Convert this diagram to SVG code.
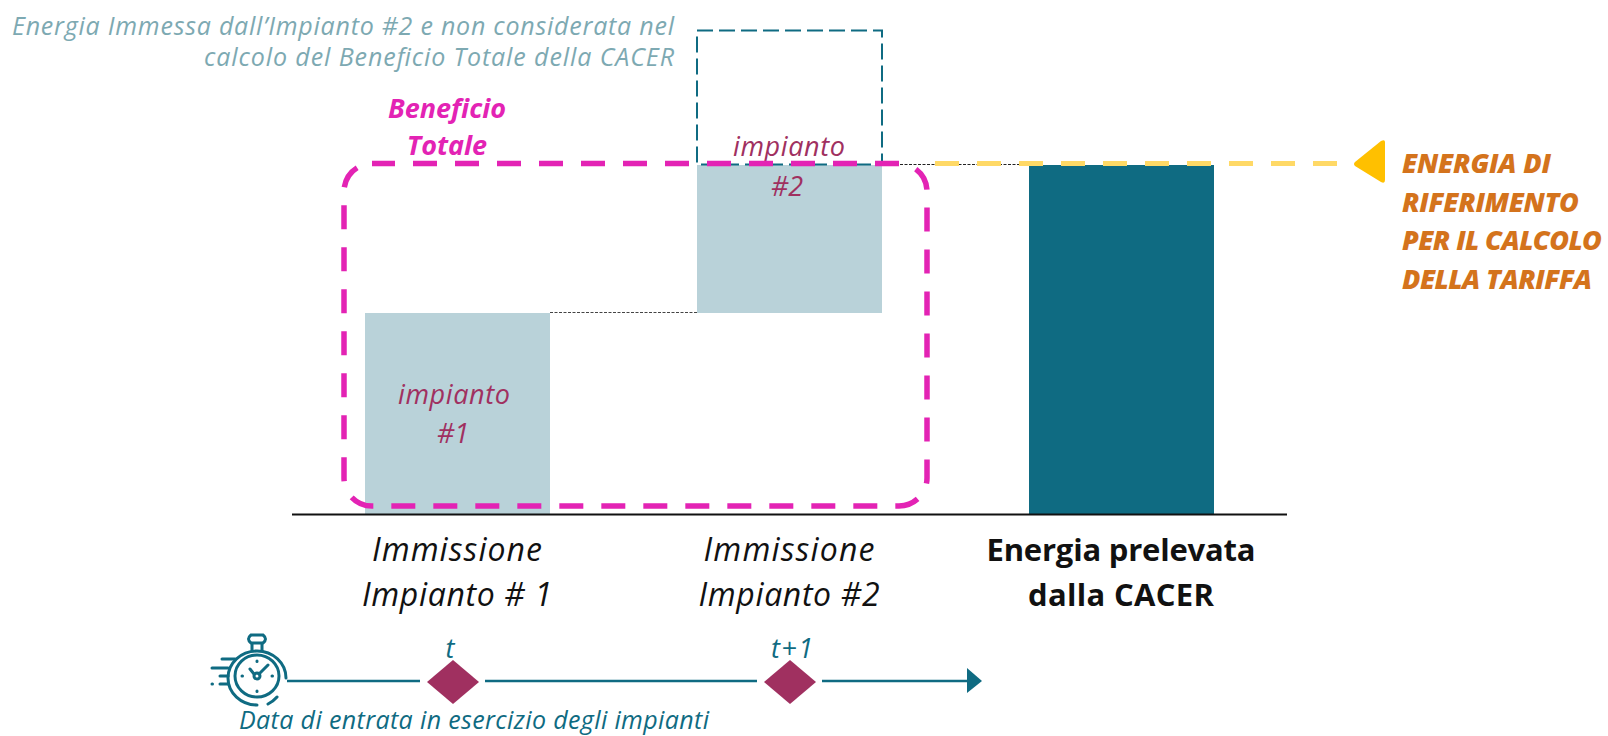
<svg xmlns="http://www.w3.org/2000/svg" width="1608" height="736" viewBox="0 0 1608 736">
<defs>
<style>
text{font-family:"Open Sans","Noto Sans","Liberation Sans",sans-serif}
.i{font-style:italic;font-weight:400}
.m{text-anchor:middle}
.e{text-anchor:end}
.note{font-size:25px;fill:#7da9b2;font-style:italic;font-weight:400}
.plum{font-size:27px;fill:#a03060;font-style:italic;font-weight:400;text-anchor:middle}
.cat{font-size:32px;fill:#111;text-anchor:middle}
.catb{font-size:31px;fill:#111;text-anchor:middle;font-weight:700}
.or{font-size:27px;font-weight:800;font-style:italic;fill:#d4731c}
.ben{font-size:27px;font-weight:700;font-style:italic;fill:#e323b4;text-anchor:middle}
.teal{fill:#0f6b82}
.tt{font-size:27px;fill:#0f6b82;text-anchor:middle}
.tl{stroke:#0f6b82;stroke-width:2.500;fill:none}
.ico{stroke:#0f6b82;stroke-width:3;fill:none;stroke-linecap:round}
</style>
</defs>
<rect width="1608" height="736" fill="#fff"/>
<g id="bar-impianto-1"><rect x="365" y="313" width="185" height="202" fill="#b9d2d9"/><text class="plum" x="454" y="404" textLength="112">impianto</text><text class="plum" x="453" y="443">#1</text></g>
<g id="bar-impianto-2"><rect x="697" y="165" width="185" height="148" fill="#b9d2d9"/><rect x="697" y="30.500" width="185" height="134" fill="none" stroke="#0f6b82" stroke-width="2" stroke-dasharray="16 6"/><text class="plum" x="789" y="156" textLength="112">impianto</text><text class="plum" x="787" y="196">#2</text></g>
<g id="bar-prelevata"><rect x="1029" y="165" width="185" height="350" fill="#0f6b82"/></g>
<g id="connectors">
<path d="M550 312.500H697" stroke="#444" stroke-width="1" stroke-dasharray="3 1.500" fill="none"/>
<path d="M882 164.500H1029" stroke="#222" stroke-width="1.200" stroke-dasharray="3 1.500" fill="none"/>
<path d="M292 514.500H1287" stroke="#111" stroke-width="2" fill="none"/>
<path d="M935 163.500H1340" stroke="#ffd966" stroke-width="5" stroke-dasharray="24 18" fill="none"/>
<path d="M287 681H420M485 681H757M822 681H967" class="tl"/>
<path d="M967 668L982 681L967 693Z" class="teal"/>
</g>
<g id="beneficio-totale"><rect x="344" y="163.500" width="583" height="342.500" rx="28" fill="none" stroke="#e323b4" stroke-width="5.500" stroke-dasharray="24 18" stroke-dashoffset="1"/><text class="ben" x="447" y="118">Beneficio</text><text class="ben" x="447" y="155">Totale</text></g>
<g id="nota"><text class="note e" x="674" y="35" textLength="662">Energia Immessa dall’Impianto #2 e non considerata nel</text><text class="note e" x="674" y="66" textLength="470">calcolo del Beneficio Totale della CACER</text></g>
<g id="riferimento"><path d="M1385 142V180Q1385 184 1381 182L1355 166Q1353 164 1355 162L1381 141Q1385 139 1385 142Z" fill="#ffc000"/><text class="or" x="1402" y="173" textLength="149">ENERGIA DI</text><text class="or" x="1402" y="212" textLength="177">RIFERIMENTO</text><text class="or" x="1402" y="250" textLength="200">PER IL CALCOLO</text><text class="or" x="1402" y="289" textLength="190">DELLA TARIFFA</text></g>
<g id="label-1"><text class="cat i" x="457" y="561" textLength="170">Immissione</text><text class="cat i" x="457" y="606" textLength="190">Impianto # 1</text></g>
<g id="label-2"><text class="cat i" x="789" y="561" textLength="171">Immissione</text><text class="cat i" x="789" y="606" textLength="181">Impianto #2</text></g>
<g id="label-3"><text class="catb" x="1121" y="561" textLength="269">Energia prelevata</text><text class="catb" x="1121" y="606" textLength="186">dalla CACER</text></g>
<g id="cronometro"><path d="M286 678A29 27 0 1 0 257 705M268 704A29 27 0 0 0 277 697" class="ico"/><ellipse cx="257" cy="676" rx="22" ry="21" class="ico"/><circle cx="257" cy="676" r="3" class="ico"/><path d="M259 674L268 665M254 674L250 669M251 635H263Q268 639 263 643H251Q246 639 251 635ZM252 643V650M262 643V650" class="ico"/><path d="M222 659H235M212 668H228M220 676H228M212 684H212.500M220 684H228" class="ico"/><path d="M257 661V661.500M257 691V691.500M242 676H242.500M272 676H272.500" class="ico"/></g>
<g id="milestone-t"><path d="M453 660L479 682L453 704L427 682Z" fill="#a03060"/><text x="450" y="658" class="tt i">t</text></g>
<g id="milestone-t1"><path d="M790 660L816 682L790 704L764 682Z" fill="#a03060"/><text x="792" y="658" class="tt i" textLength="42">t+1</text></g>
<g id="data-label"><text x="239" y="729" class="i" font-size="25" fill="#0f6b82" textLength="470">Data di entrata in esercizio degli impianti</text></g>
</svg>
